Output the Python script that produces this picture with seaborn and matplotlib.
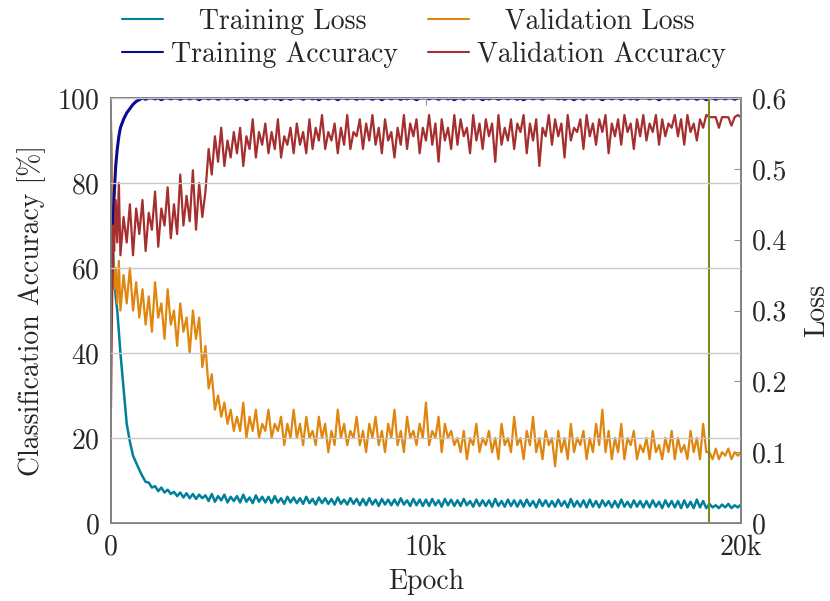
import numpy as np
import matplotlib
matplotlib.use("Agg")
import matplotlib.pyplot as plt
import seaborn as sns

# epochs: fine steps at the very start, then every 100
epochs = [0, 25, 50, 75, 100, 150, 200, 250, 300, 400] + list(range(500, 20001, 100))

train_acc = [
    48, 58, 66, 72, 77, 84, 88, 91, 93, 95,
    96.5, 97.5, 98.5, 99.2, 99.6,
    100, 99.7, 100, 100, 99.8, 100, 99.6, 100, 100, 99.8,
    100, 100, 99.7, 100, 100, 99.8, 100, 100, 99.6, 100,
    100, 99.8, 100, 100, 99.7, 100, 100, 99.8, 100, 100,
    99.7, 100, 100, 99.6, 100, 100, 99.8, 100, 100, 99.7,
    100, 100, 99.8, 100, 99.6, 100, 100, 99.7, 100, 100,
    100, 99.7, 100, 100, 99.8, 100, 99.6, 100, 100, 99.8,
    100, 100, 99.6, 100, 100, 99.8, 100, 100, 99.7, 100,
    99.8, 100, 100, 99.7, 100, 100, 99.6, 100, 100, 99.8,
    100, 100, 99.7, 100, 99.8, 100, 100, 99.6, 100, 100,
    100, 99.8, 100, 100, 99.7, 100, 100, 99.8, 100, 99.6,
    100, 100, 99.7, 100, 100, 99.8, 100, 100, 99.6, 100,
    99.8, 100, 100, 99.7, 100, 100, 99.8, 100, 100, 99.7,
    100, 99.6, 100, 100, 99.8, 100, 100, 99.7, 100, 100,
    100, 100, 99.8, 100, 99.7, 100, 100, 99.6, 100, 100,
    99.7, 100, 100, 99.8, 100, 100, 99.6, 100, 100, 99.8,
    100, 100, 99.7, 100, 100, 99.8, 100, 99.7, 100, 100,
    100, 99.8, 100, 100, 99.6, 100, 100, 99.8, 100, 100,
    99.7, 100, 100, 99.8, 100, 100, 99.7, 100, 100, 99.6,
    100, 100, 99.7, 100, 100, 99.8, 100, 100, 99.7, 100,
    100,
]

val_acc = [
    27, 45, 60, 70, 64, 76, 66, 80, 63, 72,
    66, 75, 63, 74, 68,
    76, 64, 73, 69, 78, 65, 74, 70, 79, 67,
    75, 68, 82, 70, 77, 71, 83, 69, 80, 72,
    78, 88, 82, 91, 85, 93, 84, 90, 86, 92,
    87, 93, 84, 91, 88, 95, 86, 92, 89, 94,
    87, 92, 88, 95, 86, 91, 89, 93, 87, 94,
    89, 92, 87, 95, 88, 93, 90, 96, 88, 92,
    90, 94, 87, 93, 89, 96, 88, 92, 91, 95,
    88, 94, 90, 96, 89, 93, 87, 95, 90, 92,
    86, 93, 89, 96, 88, 94, 91, 95, 87, 93,
    90, 96, 89, 94, 85, 95, 90, 93, 88, 96,
    89, 95, 91, 93, 87, 96, 90, 94, 88, 95,
    91, 94, 85, 96, 89, 93, 90, 95, 88, 94,
    92, 96, 87, 94, 90, 95, 84, 93, 91, 96,
    89, 95, 91, 94, 86, 96, 90, 93, 92, 95,
    88, 96, 91, 94, 89, 95, 92, 96, 87, 94,
    91, 95, 89, 96, 92, 94, 88, 95, 91, 96,
    90, 94, 92, 96, 89, 95, 91, 94, 93, 96,
    91, 95, 89, 96, 92, 94, 90, 95, 93, 96,
    95.5, 95.5, 95.5, 93, 95.5, 95.5, 95.5, 93.5, 95.5, 96,
    95.5,
]

train_loss = [
    0.55, 0.48, 0.42, 0.38, 0.35, 0.32, 0.30, 0.27, 0.24, 0.19,
    0.14, 0.115, 0.095, 0.085, 0.075,
    0.066, 0.058, 0.057, 0.050, 0.052, 0.045, 0.050, 0.043, 0.047, 0.041,
    0.044, 0.038, 0.043, 0.036, 0.042, 0.035, 0.041, 0.034, 0.040, 0.035,
    0.039, 0.031, 0.041, 0.030, 0.038, 0.032, 0.040, 0.029, 0.037, 0.031,
    0.038, 0.029, 0.040, 0.030, 0.036, 0.028, 0.039, 0.030, 0.037, 0.029,
    0.037, 0.028, 0.038, 0.029, 0.035, 0.027, 0.037, 0.029, 0.036, 0.028,
    0.035, 0.027, 0.037, 0.028, 0.034, 0.026, 0.036, 0.028, 0.035, 0.027,
    0.034, 0.026, 0.036, 0.027, 0.033, 0.026, 0.035, 0.027, 0.034, 0.025,
    0.034, 0.025, 0.035, 0.026, 0.033, 0.024, 0.034, 0.026, 0.033, 0.025,
    0.033, 0.025, 0.035, 0.026, 0.032, 0.024, 0.034, 0.025, 0.033, 0.024,
    0.033, 0.024, 0.034, 0.025, 0.032, 0.023, 0.034, 0.025, 0.033, 0.024,
    0.032, 0.024, 0.034, 0.025, 0.031, 0.023, 0.033, 0.024, 0.032, 0.024,
    0.032, 0.023, 0.034, 0.024, 0.031, 0.023, 0.033, 0.024, 0.032, 0.023,
    0.032, 0.023, 0.033, 0.024, 0.031, 0.022, 0.033, 0.024, 0.032, 0.023,
    0.031, 0.023, 0.033, 0.024, 0.031, 0.022, 0.034, 0.023, 0.031, 0.023,
    0.032, 0.022, 0.033, 0.023, 0.031, 0.022, 0.032, 0.024, 0.031, 0.022,
    0.031, 0.022, 0.033, 0.023, 0.030, 0.022, 0.032, 0.023, 0.031, 0.022,
    0.031, 0.022, 0.032, 0.023, 0.030, 0.021, 0.032, 0.023, 0.031, 0.022,
    0.031, 0.021, 0.032, 0.022, 0.030, 0.021, 0.033, 0.022, 0.031, 0.021,
    0.027, 0.022, 0.025, 0.021, 0.026, 0.022, 0.027, 0.021, 0.025, 0.022,
    0.026,
]

val_loss = [
    0.57, 0.50, 0.42, 0.37, 0.33, 0.36, 0.31, 0.37, 0.30, 0.35,
    0.31, 0.36, 0.30, 0.34, 0.29,
    0.33, 0.28, 0.32, 0.27, 0.34, 0.29, 0.31, 0.26, 0.33, 0.28,
    0.30, 0.25, 0.31, 0.27, 0.29, 0.24, 0.30, 0.26, 0.29, 0.22,
    0.25, 0.19, 0.21, 0.16, 0.18, 0.15, 0.17, 0.14, 0.16, 0.13,
    0.15, 0.13, 0.17, 0.12, 0.15, 0.13, 0.16, 0.12, 0.14, 0.13,
    0.16, 0.12, 0.14, 0.13, 0.15, 0.11, 0.14, 0.12, 0.16, 0.12,
    0.14, 0.11, 0.15, 0.12, 0.13, 0.11, 0.15, 0.12, 0.14, 0.10,
    0.13, 0.11, 0.16, 0.12, 0.14, 0.11, 0.13, 0.12, 0.15, 0.11,
    0.13, 0.10, 0.14, 0.12, 0.15, 0.11, 0.13, 0.10, 0.14, 0.12,
    0.16, 0.11, 0.13, 0.10, 0.15, 0.12, 0.13, 0.11, 0.14, 0.12,
    0.17, 0.11, 0.13, 0.12, 0.15, 0.10, 0.14, 0.12, 0.13, 0.11,
    0.12, 0.10, 0.13, 0.09, 0.12, 0.11, 0.14, 0.10, 0.12, 0.11,
    0.13, 0.10, 0.12, 0.09, 0.14, 0.11, 0.12, 0.10, 0.15, 0.11,
    0.12, 0.09, 0.13, 0.11, 0.15, 0.10, 0.12, 0.09, 0.13, 0.11,
    0.12, 0.08, 0.13, 0.10, 0.12, 0.09, 0.14, 0.10, 0.12, 0.11,
    0.13, 0.09, 0.12, 0.10, 0.14, 0.11, 0.16, 0.10, 0.13, 0.09,
    0.12, 0.10, 0.14, 0.09, 0.12, 0.11, 0.13, 0.09, 0.11, 0.10,
    0.12, 0.09, 0.13, 0.10, 0.11, 0.09, 0.12, 0.10, 0.13, 0.09,
    0.12, 0.10, 0.11, 0.09, 0.13, 0.10, 0.12, 0.09, 0.14, 0.10,
    0.10, 0.09, 0.105, 0.09, 0.10, 0.095, 0.105, 0.09, 0.10, 0.095,
    0.10,
]

best_epoch = 19000

x_ticks = [0, 10000, 20000]
x_labels = ["0", "10k", "20k"]
acc_ticks = [0, 20, 40, 60, 80, 100]
loss_ticks = [0, 0.1, 0.2, 0.3, 0.4, 0.5, 0.6]
loss_labels = ["0", "0.1", "0.2", "0.3", "0.4", "0.5", "0.6"]

c_train_loss = "#00809b"
c_val_loss = "#e0860f"
c_train_acc = "#0a0a96"
c_val_acc = "#a52f2f"
c_best = "#7d8a1e"

sns.set_theme(style="white")
plt.rcParams["font.family"] = ["serif"]
plt.rcParams["font.serif"] = ["cmr10", "DejaVu Serif"]
plt.rcParams["mathtext.fontset"] = "cm"
plt.rcParams["axes.formatter.use_mathtext"] = True

fs = 20
fig = plt.figure(figsize=(8.3, 6.01), dpi=100)
ax = fig.add_axes([0.1337, 0.1298, 0.7590, 0.7071])
ax2 = ax.twinx()

# losses on the right axis (drawn below), accuracies on the left axis
sns.lineplot(x=epochs, y=train_loss, ax=ax2, color=c_train_loss, lw=1.8,
             label="   Training Loss", legend=False)
sns.lineplot(x=epochs, y=val_loss, ax=ax2, color=c_val_loss, lw=1.6,
             label="   Validation Loss", legend=False)
sns.lineplot(x=epochs, y=train_acc, ax=ax, color=c_train_acc, lw=2.2,
             label="Training Accuracy", legend=False)
sns.lineplot(x=epochs, y=val_acc, ax=ax, color=c_val_acc, lw=1.6,
             label="Validation Accuracy", legend=False)
ax.axvline(best_epoch, color=c_best, lw=1.5)

ax.set_zorder(ax2.get_zorder() + 1)
ax.patch.set_visible(False)

ax.set_xlim(0, 20000)
ax.set_ylim(0, 100)
ax2.set_ylim(0, 0.6)

ax.set_xticks(x_ticks)
ax.set_xticklabels(x_labels)
ax.set_yticks(acc_ticks)
ax2.set_yticks(loss_ticks)
ax2.set_yticklabels(loss_labels)

ax.grid(axis="y", color="#c8c8c8", lw=1.0)
ax.set_axisbelow(False)
ax2.grid(False)

ax.tick_params(axis="x", direction="in", top=True, length=5, width=0.8,
               color="#909090", labelsize=fs, pad=8)
ax.tick_params(axis="y", direction="in", length=0, labelsize=fs, pad=8)
ax2.tick_params(axis="y", direction="in", length=5, width=0.8,
                color="#909090", labelsize=fs, pad=8)

for a in (ax, ax2):
    for s in a.spines.values():
        s.set_color("#808080")
        s.set_linewidth(1.2)

ax.set_xlabel("Epoch", fontsize=fs, labelpad=6)
ax.set_ylabel("Classification Accuracy [%]", fontsize=fs, labelpad=8)
ax2.set_ylabel("Loss", fontsize=fs, labelpad=12)

h2, l2 = ax2.get_legend_handles_labels()
h1, l1 = ax.get_legend_handles_labels()
handles = [h2[0], h1[0], h2[1], h1[1]]
labels = [l2[0], l1[0], l2[1], l1[1]]
leg = fig.legend(handles, labels, ncol=2, loc="upper center",
                 bbox_to_anchor=(0.511, 1.018), frameon=False, fontsize=fs,
                 handlelength=1.45, handletextpad=0.3, columnspacing=1.1,
                 labelspacing=0.22, borderpad=0.2)
for line in leg.get_lines():
    line.set_linewidth(1.5)

fig.savefig("out.png", dpi=100)
